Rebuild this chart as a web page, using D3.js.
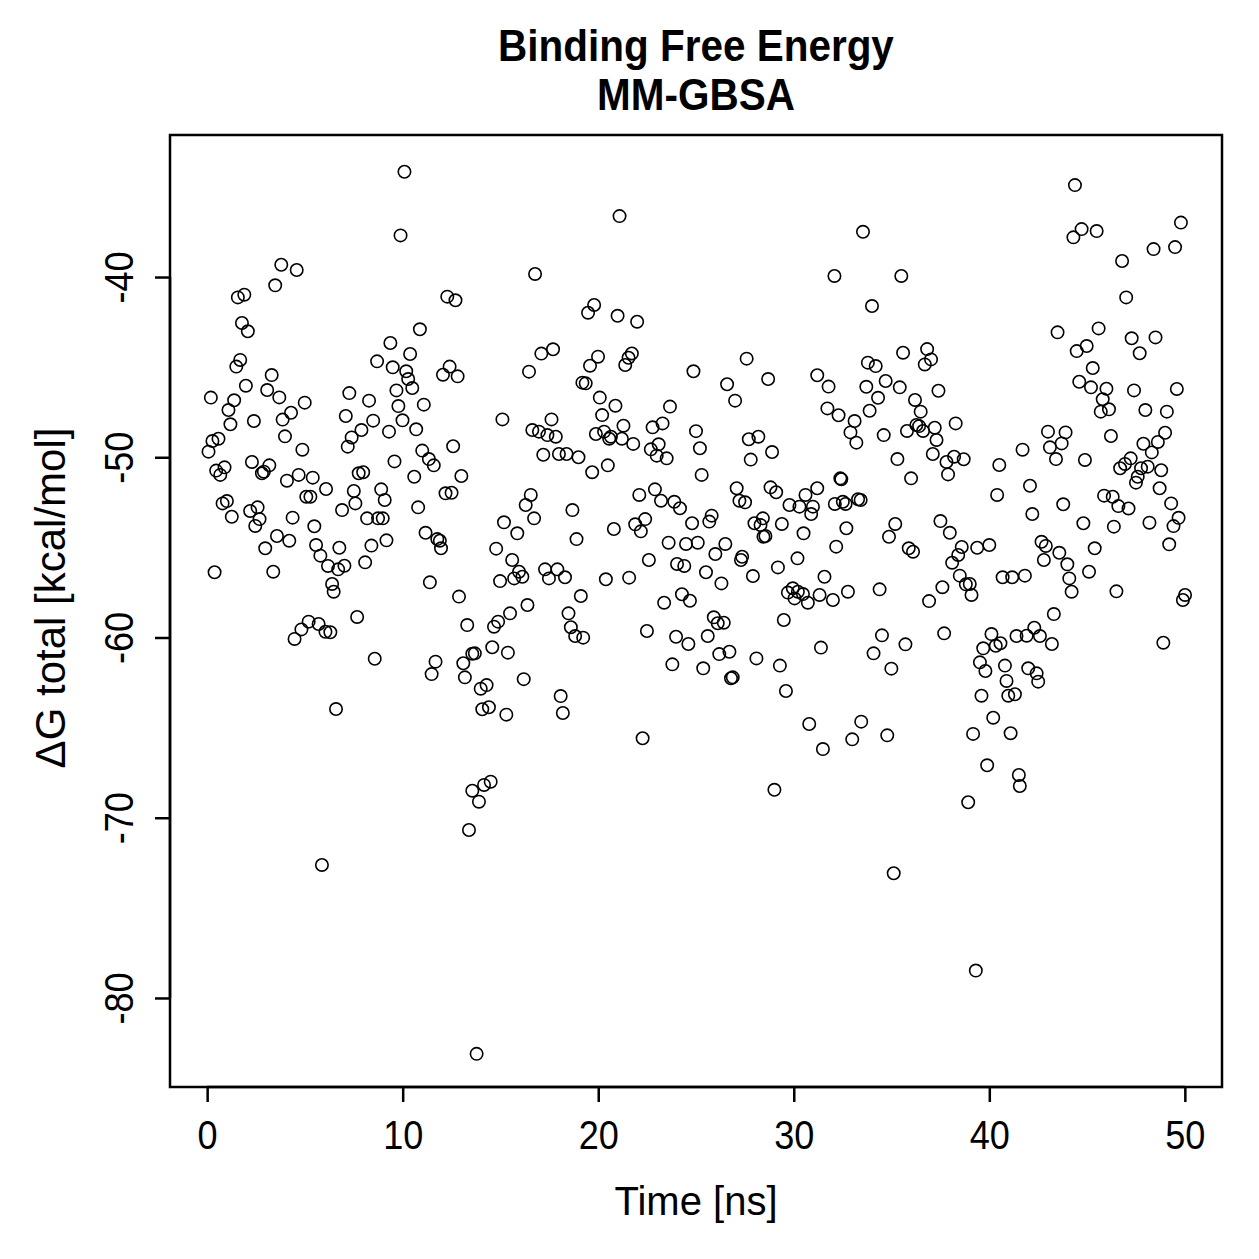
<!DOCTYPE html>
<html>
<head>
<meta charset="utf-8">
<script src="https://cdn.jsdelivr.net/npm/d3@7"></script>
<style>
  body { margin: 0; background: #fff; }
  text { font-family: "Liberation Sans", Arial, Helvetica, sans-serif; fill: #000; }
</style>
</head>
<body>
<div id="chart"></div>
<script>
const width = 1259, height = 1259;

const titleLines = ["Binding Free Energy", "MM-GBSA"];
const xLabel = "Time [ns]";
const yLabel = "ΔG total [kcal/mol]";
const xTicks = [0, 10, 20, 30, 40, 50];
const yTicks = [-80, -70, -60, -50, -40];

// time [ns] and dG total [kcal/mol]
const timeNs = [
  10.09, 9.89, 3.79, 4.58, 3.48, 1.57, 1.90, 12.28, 12.70, 16.77, 1.78, 2.08, 10.88, 9.37, 10.38, 8.69,
  1.69, 1.49, 9.49, 10.18, 10.28, 10.49, 12.40, 12.06, 12.81, 16.46, 3.30, 1.98, 3.07, 3.69, 0.19, 1.38,
  1.09, 1.19, 2.39, 3.86, 4.29, 4.99, 3.98, 4.87, 0.27, 0.58, 0.07, 2.29, 3.18, 2.80, 2.90, 0.89,
  0.46, 0.67, 4.68, 5.40, 4.08, 7.27, 8.28, 7.09, 8.49, 7.89, 7.39, 7.19, 9.30, 9.78, 9.68, 9.99,
  10.69, 11.08, 11.00, 11.34, 11.59, 12.58, 15.10, 16.63, 9.58, 10.59, 13.00, 7.75, 7.98,
  6.08, 7.50, 8.90, 9.08, 7.58, 5.07, 5.28, 0.79, 1.01, 1.26, 2.20, 2.58, 2.68, 2.46, 4.37,
  5.48, 6.90, 8.18, 8.74, 8.98, 10.79, 12.19, 12.50, 16.55, 16.29, 16.72, 3.57, 4.20, 2.97, 5.57, 5.79,
  6.76, 8.40, 9.17, 6.18, 7.02, 6.70, 8.08, 11.17, 11.77, 11.90, 11.96, 0.38, 3.38, 6.39, 6.47, 11.39,
  12.88, 15.18, 15.86, 14.78, 15.60, 15.95, 15.70, 16.12, 14.98, 16.38, 15.49, 7.67, 5.19, 5.70, 4.82, 4.47,
  6.05, 6.30, 13.30, 14.88, 14.67, 14.58, 15.38, 8.57, 11.68, 11.48, 13.56, 13.69, 13.10, 13.18, 13.99, 14.29,
  16.19, 14.07, 14.41, 15.30, 6.59, 13.56, 14.16, 14.50, 13.90, 13.39, 5.87, 13.78,
  21.09, 32.08, 33.54, 19.79, 19.48, 20.99, 21.99, 34.00, 17.09, 17.69, 19.99, 19.58, 21.72, 21.55, 21.38, 19.19,
  19.36, 24.87, 26.59, 28.69, 27.59, 27.00, 31.20, 31.78, 31.72, 32.29, 33.11, 32.90, 33.20, 20.08, 20.88, 20.20,
  23.67, 23.29, 22.78, 21.29, 17.61, 16.97, 17.40, 17.83, 19.88, 20.30, 20.65, 20.56, 21.21, 21.79, 25.00, 28.19,
  27.70, 25.20, 22.69, 23.09, 22.99, 23.50, 17.19, 17.99, 18.38, 18.99, 19.69, 20.49, 25.29, 27.80, 28.89, 32.38,
  18.68, 18.89, 22.10, 22.90, 23.21, 23.89, 24.18, 24.80, 25.68, 25.80, 27.08, 27.22, 27.51, 28.81, 29.10, 29.78,
  30.29, 30.60, 30.98, 31.20, 30.89, 32.10, 32.43, 32.51, 32.65, 33.29, 33.42, 27.99, 28.42, 28.30, 28.55, 28.45,
  29.39, 30.50, 32.69, 32.17, 20.80, 21.89, 22.18, 22.40, 23.60, 24.49, 25.09, 26.50, 25.99, 27.36, 27.30, 30.19,
  29.19, 22.59, 24.03, 24.40, 25.51, 17.28, 17.91, 17.48, 18.30, 20.39, 21.58, 26.30, 27.91, 31.57, 32.77, 19.11,
  23.37, 24.28, 24.69, 29.70, 29.95, 30.04, 30.21, 30.47, 30.72, 31.32, 32.00, 18.48, 18.60, 18.82, 19.23, 22.49,
  23.98, 24.61, 25.60, 25.91, 26.11, 26.42, 26.19, 26.71, 23.79, 25.37, 26.79, 26.88, 28.09, 29.29, 29.49, 31.39,
  29.60, 18.08, 18.19, 22.27, 30.79, 33.45, 32.99, 31.49, 29.01,
  44.38, 44.72, 44.30, 45.49, 49.80, 49.50, 48.40, 46.79, 47.00, 35.50, 43.49, 45.59, 47.28, 48.50, 47.69, 44.47,
  44.98, 45.29, 44.60, 45.20, 45.99, 45.80, 45.70, 46.12, 47.40, 49.59, 47.98, 49.08, 46.22, 48.99, 48.62, 47.88,
  48.31, 48.79, 46.69, 46.94, 47.23, 47.59, 47.76, 48.10, 44.89, 43.41, 43.00, 43.90, 43.70, 43.10, 41.70, 40.51,
  33.79, 34.19, 35.59, 36.82, 37.02, 36.70, 33.71, 34.70, 35.42, 34.31, 33.88, 36.20, 36.49, 37.40, 36.27, 36.41,
  35.79, 36.61, 37.21, 37.30, 38.28, 34.60, 35.30, 37.11, 37.81, 38.20, 38.69, 37.89, 36.00,
  40.40, 42.08, 43.78, 42.20, 45.87, 46.31, 46.60, 47.12, 47.50, 48.71, 49.30, 49.68, 49.42, 49.20, 48.19, 46.37,
  44.81, 45.39, 45.10, 46.50, 50.01, 49.90, 48.90, 35.19, 34.87, 35.88, 36.10, 34.39, 36.92, 37.50, 37.98, 38.59,
  38.41, 38.10, 39.38, 40.00, 37.60, 38.49, 38.80, 39.00, 39.09, 40.68, 41.17, 41.82, 42.67, 42.89, 42.79, 43.58,
  43.99, 44.09, 44.21, 43.30, 34.51, 35.71, 34.08, 34.99, 37.69, 40.11, 40.57, 40.33, 39.69, 39.52, 39.80, 41.39,
  41.91, 42.30, 42.59, 43.20, 40.80, 41.99, 42.42, 42.50, 40.88, 39.60, 40.97, 41.31, 34.78, 40.20, 39.17, 41.09,
  39.89, 41.51, 41.56, 38.92, 35.11, 39.31
];

const dGTotal = [
  -34.16, -37.69, -39.32, -39.61, -40.46, -41.13, -40.98, -41.09, -41.29, -39.83, -42.55, -43.01, -42.90, -43.66, -44.27, -44.68,
  -44.60, -44.97, -45.01, -45.23, -45.66, -46.16, -44.97, -45.42, -45.51, -45.25, -45.44, -46.03, -46.27, -46.68, -46.69, -46.84,
  -47.38, -48.17, -47.99, -47.91, -47.53, -46.97, -48.84, -49.58, -49.10, -48.97, -49.69, -50.26, -50.45, -50.89, -50.80, -50.56,
  -50.74, -50.98, -50.98, -51.13, -51.30, -46.44, -46.86, -47.71, -47.97, -48.49, -48.90, -49.41, -48.58, -47.16, -46.29, -47.95,
  -48.45, -47.08, -49.63, -50.10, -50.45, -49.39, -47.90, -48.49, -50.23, -51.08, -51.04, -50.89, -50.83,
  -51.76, -51.87, -51.78, -52.37, -52.56, -52.19, -52.19, -52.56, -52.43, -53.30, -52.98, -52.78, -53.43, -53.81, -53.35,
  -53.83, -52.93, -53.39, -53.39, -53.39, -52.78, -52.00, -51.97, -52.09, -52.65, -53.39, -54.37, -54.63, -55.05, -54.87, -55.46,
  -55.02, -54.90, -54.61, -56.03, -56.02, -56.22, -55.83, -54.19, -54.54, -54.63, -55.05, -56.38, -56.35, -57.03, -57.46, -56.94,
  -57.73, -53.61, -54.22, -55.07, -55.70, -56.35, -56.72, -56.63, -56.87, -58.20, -58.66, -58.86, -59.12, -59.25, -59.55, -60.08,
  -59.68, -59.71, -59.31, -59.12, -59.40, -60.54, -60.84, -61.18, -61.34, -62.03, -60.90, -60.88, -61.43, -62.21, -62.84, -62.64,
  -62.31, -63.98, -63.87, -64.28, -63.97, -68.50, -68.18, -68.00, -69.11, -70.68, -72.62, -83.10,
  -36.62, -39.94, -37.49, -41.55, -41.98, -42.15, -42.48, -41.61, -44.25, -44.01, -44.42, -44.92, -44.24, -44.48, -44.88, -45.86,
  -45.90, -45.23, -45.95, -45.66, -44.53, -46.86, -45.45, -46.08, -47.29, -47.67, -47.99, -48.62, -49.19, -46.69, -47.14, -47.66,
  -47.19, -48.12, -48.34, -48.25, -47.90, -48.58, -48.77, -48.86, -48.71, -48.58, -48.86, -48.97, -48.97, -49.26, -48.55, -48.86,
  -49.00, -49.50, -49.56, -49.28, -49.91, -50.06, -49.86, -49.82, -49.82, -50.00, -50.83, -50.45, -50.98, -50.13, -49.71, -51.17,
  -52.93, -54.54, -52.09, -51.78, -52.41, -52.47, -52.83, -53.66, -53.57, -53.24, -51.72, -52.41, -52.50, -51.67, -51.94, -52.65,
  -52.74, -52.09, -52.74, -51.72, -53.15, -52.59, -51.22, -52.47, -52.59, -52.33, -52.37, -53.66, -53.39, -53.76, -54.37, -54.41,
  -53.70, -54.22, -53.94, -54.96, -53.98, -53.72, -54.11, -53.43, -54.74, -54.81, -54.74, -54.81, -55.37, -55.52, -55.70, -55.61,
  -56.11, -55.70, -55.92, -56.03, -56.38, -56.22, -56.22, -56.72, -56.66, -56.77, -56.68, -57.00, -56.59, -56.63, -57.46, -57.70,
  -58.07, -57.60, -57.96, -57.51, -57.27, -57.83, -57.46, -57.59, -58.07, -57.64, -57.92, -58.66, -59.43, -59.92, -60.01, -59.64,
  -59.96, -60.36, -59.92, -58.88, -59.21, -59.18, -60.92, -60.79, -61.49, -61.71, -62.26, -62.21, -61.16, -61.56, -59.03, -60.56,
  -62.97, -63.25, -64.19, -65.59, -64.80, -64.67, -65.65, -66.19, -68.45,
  -34.90, -37.34, -37.80, -37.45, -36.98, -38.34, -38.45, -39.11, -41.13, -39.94, -43.07, -42.85, -43.40, -43.35, -44.23, -44.11,
  -43.83, -45.05, -45.81, -46.12, -46.20, -46.78, -47.47, -47.34, -46.29, -46.21, -47.38, -47.47, -48.82, -48.64, -49.15, -49.25,
  -49.73, -50.72, -50.61, -50.37, -50.06, -51.08, -50.61, -50.52, -50.15, -50.10, -48.58, -48.62, -49.23, -49.45, -49.58, -50.43,
  -44.75, -44.94, -44.20, -44.00, -44.57, -44.85, -46.09, -45.77, -46.12, -46.70, -47.42, -46.82, -47.47, -46.31, -48.21, -48.27,
  -48.54, -48.54, -48.36, -49.04, -48.12, -48.77, -50.10, -49.82, -50.26, -49.97, -50.11, -50.95, -51.17,
  -52.09, -51.58, -52.61, -53.15, -52.13, -52.19, -52.71, -52.84, -51.41, -51.72, -52.56, -53.36, -53.82, -54.83, -53.63, -53.85,
  -53.66, -55.05, -56.35, -57.44, -57.64, -57.92, -60.29, -53.70, -54.41, -55.05, -55.24, -57.33, -57.98, -53.54, -54.19, -54.98,
  -55.42, -55.85, -55.02, -54.87, -57.21, -56.57, -57.05, -57.03, -57.64, -56.66, -56.66, -56.57, -54.69, -54.92, -55.70, -55.30,
  -55.94, -56.72, -57.46, -58.70, -59.88, -60.38, -60.88, -61.73, -59.77, -59.81, -60.32, -60.46, -60.60, -61.38, -61.86, -59.92,
  -59.90, -59.46, -59.92, -60.36, -61.56, -61.71, -61.99, -62.45, -62.41, -63.23, -63.23, -63.15, -65.43, -64.45, -65.35, -65.31,
  -67.09, -67.63, -68.24, -69.14, -73.08, -78.48
];

const points = timeNs.map((t, i) => ({ t: t, g: dGTotal[i] }));

const plot = { left: 170, right: 1222, top: 135, bottom: 1087 };

const x = d3.scaleLinear().domain([-1.9, 51.9]).range([plot.left, plot.right]);
const y = d3.scaleLinear().domain([-84.94, -32.12]).range([plot.bottom, plot.top]);

const svg = d3.select("#chart")
  .append("svg")
  .attr("width", width)
  .attr("height", height);

svg.append("rect")
  .attr("width", width)
  .attr("height", height)
  .attr("fill", "#fff");

// points
svg.append("g")
  .selectAll("circle")
  .data(points)
  .enter()
  .append("circle")
  .attr("cx", d => x(d.t))
  .attr("cy", d => y(d.g))
  .attr("r", 6.2)
  .attr("fill", "none")
  .attr("stroke", "#000")
  .attr("stroke-width", 1.6);

// box
svg.append("rect")
  .attr("x", plot.left)
  .attr("y", plot.top)
  .attr("width", plot.right - plot.left)
  .attr("height", plot.bottom - plot.top)
  .attr("fill", "none")
  .attr("stroke", "#000")
  .attr("stroke-width", 2.5);

// x axis
const xAxis = svg.append("g")
  .attr("transform", `translate(0,${plot.bottom})`)
  .call(d3.axisBottom(x).tickValues(xTicks).tickSize(15).tickPadding(18));
xAxis.select(".domain")
  .attr("d", `M${x(0)},0H${x(50)}`)
  .attr("stroke-width", 2.5);
xAxis.selectAll(".tick line").attr("stroke-width", 2.5);
xAxis.selectAll(".tick text")
  .attr("transform", "scale(0.88,1)")
  .style("font-size", "41px")
  .style("font-family", "'Liberation Sans', Arial, sans-serif");

// y axis
const yAxis = svg.append("g")
  .attr("transform", `translate(${plot.left},0)`)
  .call(d3.axisLeft(y).tickValues(yTicks).tickSize(15).tickFormat(d3.format("d")));
yAxis.select(".domain")
  .attr("d", `M0,${y(-80)}V${y(-40)}`)
  .attr("stroke-width", 2.5);
yAxis.selectAll(".tick line").attr("stroke-width", 2.5);
yAxis.selectAll(".tick text")
  .attr("x", null)
  .attr("dy", null)
  .attr("text-anchor", "middle")
  .attr("transform", "translate(-37,0) rotate(-90) scale(0.88,1)")
  .style("font-size", "41px")
  .style("font-family", "'Liberation Sans', Arial, sans-serif")
  .text(d => String(d).replace("−", "-"));

// titles
svg.append("g")
  .selectAll("text")
  .data(titleLines)
  .enter()
  .append("text")
  .attr("transform", (d, i) => `translate(${(plot.left + plot.right) / 2},${61 + i * 49}) scale(0.92,1)`)
  .attr("text-anchor", "middle")
  .style("font-size", "44px")
  .style("font-weight", "bold")
  .text(d => d);

svg.append("text")
  .attr("x", (plot.left + plot.right) / 2)
  .attr("y", 1215)
  .attr("text-anchor", "middle")
  .style("font-size", "40px")
  .text(xLabel);

svg.append("text")
  .attr("transform", `translate(65,598) rotate(-90)`)
  .attr("text-anchor", "middle")
  .style("font-size", "42px")
  .text(yLabel);
</script>
</body>
</html>
